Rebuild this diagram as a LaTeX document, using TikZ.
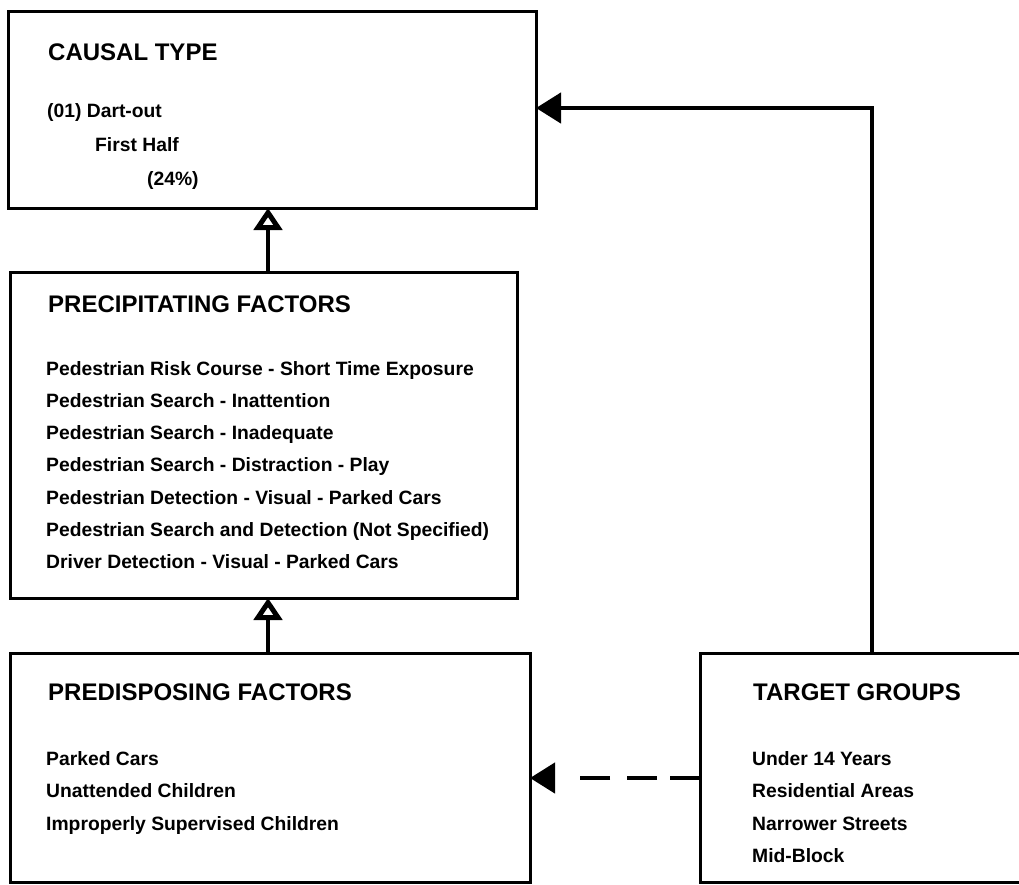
\documentclass[tikz,border=0pt]{standalone}
\usepackage{fontspec}
\setmainfont{Liberation Sans}
\usetikzlibrary{arrows.meta}
\begin{document}
\begin{tikzpicture}[x=1pt,y=-1pt,
  box/.style={draw, line width=3pt, outer sep=0pt, inner sep=0pt, anchor=north west},
  head/.style={anchor=base west, inner sep=0pt, font=\bfseries\fontsize{24}{28}\selectfont},
  body/.style={anchor=base west, inner sep=0pt, font=\bfseries\fontsize{19.3}{23}\selectfont},
  link/.style={line width=4.5pt},
  opentip/.style={-{Triangle[open, width=28pt, length=22pt, line width=5pt]}},
  solidtip/.style={-{Triangle[width=30pt, length=25pt]}}
]
\clip (0,0) rectangle (1019,884);

% boxes
\node[box, minimum width=528pt, minimum height=197pt] (causal) at (8,11) {};
\node[box, minimum width=507pt, minimum height=326pt] (prec) at (10,272) {};
\node[box, minimum width=520pt, minimum height=229pt] (predis) at (10,653) {};
\node[box, minimum width=340pt, minimum height=229pt] (target) at (700,653) {};

% causal type
\node[head] (causalT) at (48,60) {CAUSAL TYPE};
\node[body] (c1) at (47,117) {(01) Dart-out};
\node[body] (c2) at (95,151) {First Half};
\node[body] (c3) at (147,185) {(24\%)};

% precipitating factors
\node[head] (precT) at (48,312) {PRECIPITATING FACTORS};
\foreach \t [count=\i] in {
  Pedestrian Risk Course - Short Time Exposure,
  Pedestrian Search - Inattention,
  Pedestrian Search - Inadequate,
  Pedestrian Search - Distraction - Play,
  Pedestrian Detection - Visual - Parked Cars,
  Pedestrian Search and Detection (Not Specified),
  Driver Detection - Visual - Parked Cars}
  \node[body] (p\i) at (46, {375+32.3*(\i-1)}) {\t};

% predisposing factors
\node[head] (predisT) at (48,700) {PREDISPOSING FACTORS};
\foreach \t [count=\i] in {
  Parked Cars,
  Unattended Children,
  Improperly Supervised Children}
  \node[body] (d\i) at (46, {765+32.5*(\i-1)}) {\t};

% target groups
\node[head] (targetT) at (753,700) {TARGET GROUPS};
\foreach \t [count=\i] in {
  Under 14 Years,
  Residential Areas,
  Narrower Streets,
  Mid-Block}
  \node[body] (g\i) at (752, {765+32.5*(\i-1)}) {\t};

% connectors
\coordinate (ax) at (268,0);
\coordinate (vx) at (872,0);
\coordinate (hy) at (0,108);
\coordinate (dy) at (0,778);

\draw[link, opentip] (prec.north -| ax) -- (causal.south -| ax);
\draw[link, opentip] (predis.north -| ax) -- (prec.south -| ax);
\draw[link, solidtip, line join=miter] (target.north -| vx) |- (causal.east |- hy);
\draw[link, solidtip, dash pattern=on 30pt off 13pt on 30pt off 17pt on 30pt off 60pt]
  (target.west |- dy) -- (predis.east |- dy);
\end{tikzpicture}
\end{document}
